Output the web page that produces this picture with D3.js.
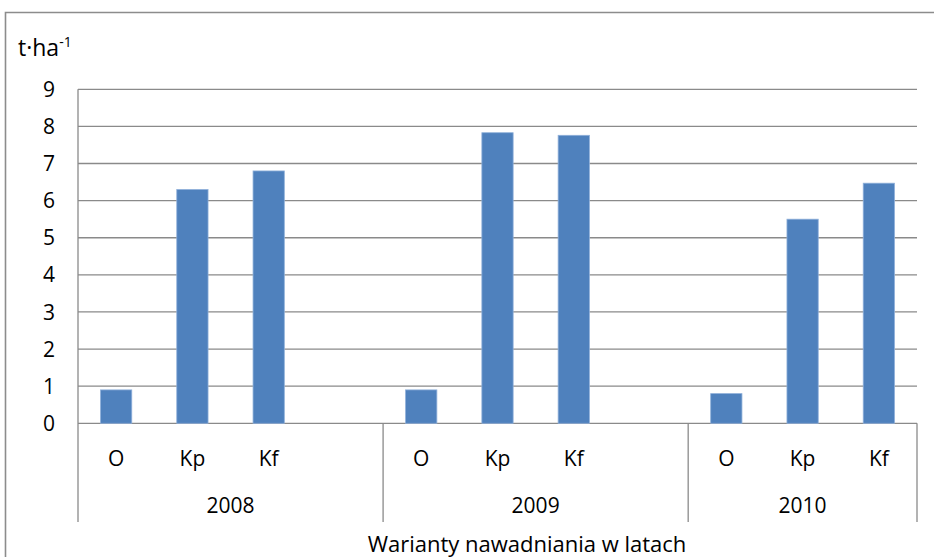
<!DOCTYPE html>
<html>
<head>
<meta charset="utf-8">
<script src="https://cdn.jsdelivr.net/npm/d3@7"></script>
<style>
  body { margin: 0; background: #fff; }
  svg { display: block; font-family: "Open Sans", sans-serif; }
</style>
</head>
<body>
<div id="chart"></div>
<script>
// categories as in the sheet: year / variant, with the empty rows kept
var years = ["2008", "2009", "2010"];
var variants = ["O", "Kp", "Kf"];
var categories = [
  ["2008", "O"], ["2008", "Kp"], ["2008", "Kf"], ["2008", ""],
  ["2009", "O"], ["2009", "Kp"], ["2009", "Kf"], ["2009", ""],
  ["2010", "O"], ["2010", "Kp"], ["2010", "Kf"]
];
var yield2008 = [0.9, 6.3, 6.8];
var yield2009 = [0.9, 7.83, 7.76];
var yield2010 = [0.8, 5.5, 6.47];
var yTicks = [0, 1, 2, 3, 4, 5, 6, 7, 8, 9];

var values = { "2008": yield2008, "2009": yield2009, "2010": yield2010 };

var width = 934, height = 557;
var plotLeft = 78, plotRight = 917, plotTop = 89.3, plotBottom = 423.3, catBottom = 522;

var svg = d3.select("#chart").append("svg")
  .attr("width", width)
  .attr("height", height);

// chart area border (only left + top are visible in the crop)
svg.append("path")
  .attr("d", "M5.5," + height + "V12.5H" + width)
  .attr("fill", "none")
  .attr("stroke", "#8c8c8c")
  .attr("stroke-width", 1.6);

var keys = categories.map(function (c) { return c[0] + "|" + c[1]; });

var x = d3.scaleBand()
  .domain(keys)
  .range([plotLeft, plotRight])
  .paddingInner(0.59)
  .paddingOuter(0.295);

var y = d3.scaleLinear()
  .domain([0, 9])
  .range([plotBottom, plotTop]);

// gridlines
svg.append("g")
  .selectAll("line")
  .data(yTicks)
  .enter()
  .append("line")
  .attr("x1", plotLeft)
  .attr("x2", plotRight)
  .attr("y1", function (d) { return y(d); })
  .attr("y2", function (d) { return y(d); })
  .attr("stroke", "#8a8a8a")
  .attr("stroke-width", 1.3);

// y labels
svg.append("g")
  .selectAll("text")
  .data(yTicks)
  .enter()
  .append("text")
  .attr("x", 55)
  .attr("y", function (d) { return y(d); })
  .attr("dy", "0.36em")
  .attr("text-anchor", "end")
  .style("font-size", "21px")
  .attr("fill", "#000")
  .text(function (d) { return d; });

// vertical axis line, runs through category labels too
svg.append("line")
  .attr("x1", plotLeft).attr("x2", plotLeft)
  .attr("y1", plotTop).attr("y2", catBottom)
  .attr("stroke", "#8a8a8a")
  .attr("stroke-width", 1.3);

// group separators + year labels
years.forEach(function (yr) {
  var ks = keys.filter(function (k) { return k.split("|")[0] === yr; });
  var gx0 = x(ks[0]) + x.bandwidth() / 2 - x.step() / 2;
  var gx1 = x(ks[ks.length - 1]) + x.bandwidth() / 2 + x.step() / 2;
  svg.append("line")
    .attr("x1", gx1).attr("x2", gx1)
    .attr("y1", plotBottom).attr("y2", catBottom)
    .attr("stroke", "#8a8a8a")
    .attr("stroke-width", 1.3);
  svg.append("text")
    .attr("x", (gx0 + gx1) / 2)
    .attr("y", 513)
    .attr("text-anchor", "middle")
    .style("font-size", "21px")
    .text(yr);
});

// variant labels
svg.append("g")
  .selectAll("text")
  .data(categories.filter(function (c) { return c[1] !== ""; }))
  .enter()
  .append("text")
  .attr("x", function (d) { return x(d[0] + "|" + d[1]) + x.bandwidth() / 2; })
  .attr("y", 466)
  .attr("text-anchor", "middle")
  .style("font-size", "21px")
  .text(function (d) { return d[1]; });

// bars
var barData = [];
years.forEach(function (yr) {
  variants.forEach(function (v, i) {
    barData.push({ key: yr + "|" + v, value: values[yr][i] });
  });
});

svg.append("g")
  .selectAll("rect")
  .data(barData)
  .enter()
  .append("rect")
  .attr("x", function (d) { return x(d.key); })
  .attr("width", x.bandwidth())
  .attr("y", function (d) { return y(d.value); })
  .attr("height", function (d) { return plotBottom - y(d.value); })
  .attr("fill", "#4f81bd")
  .attr("stroke", "#8fb0da")
  .attr("stroke-width", 0.8);

// axis titles
var yt = svg.append("text")
  .attr("x", 18)
  .attr("y", 56)
  .style("font-size", "23px");
yt.append("tspan").text("t\u00b7ha");
yt.append("tspan").attr("dy", -9).style("font-size", "14px").text("-1");

svg.append("text")
  .attr("x", 527)
  .attr("y", 552)
  .attr("text-anchor", "middle")
  .style("font-size", "22px")
  .text("Warianty nawadniania w latach");
</script>
</body>
</html>
